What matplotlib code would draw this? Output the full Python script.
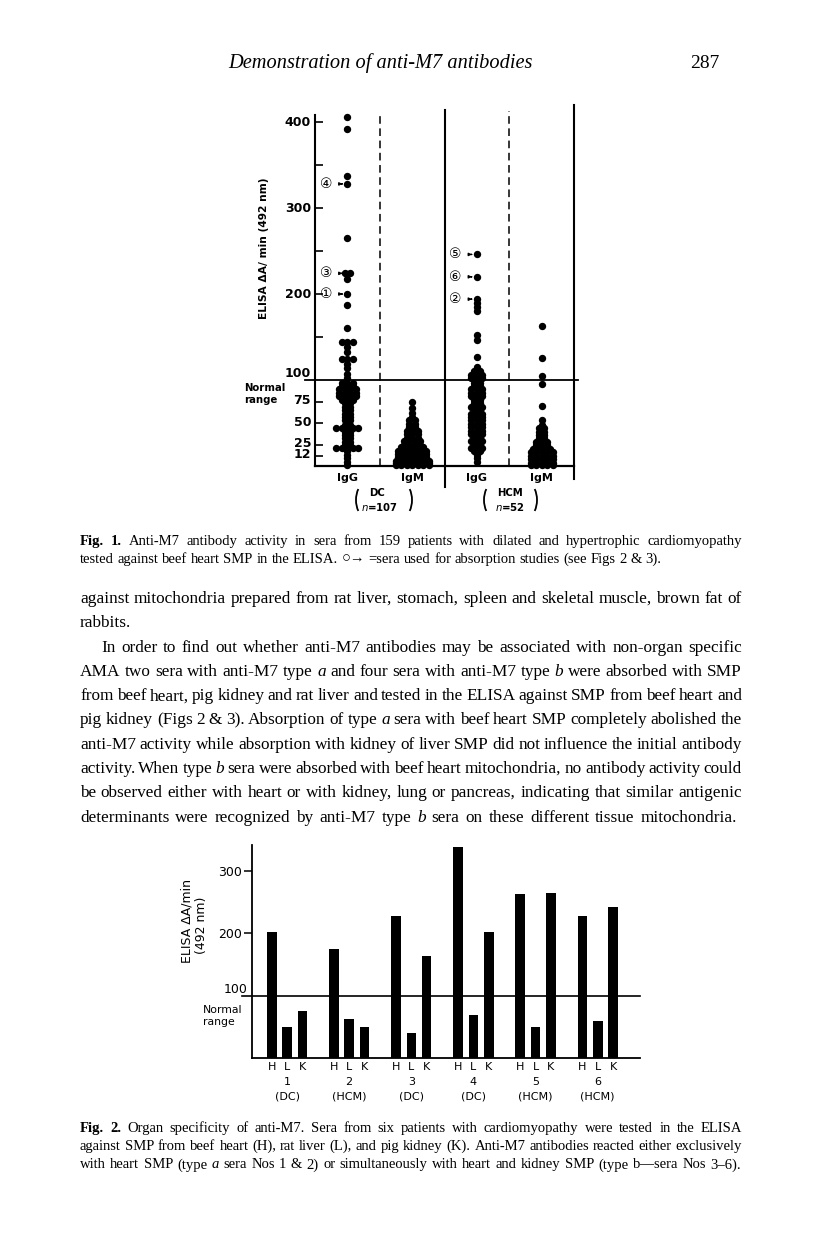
import matplotlib
matplotlib.use("Agg")
import matplotlib.pyplot as plt
from matplotlib.patches import Arc
import numpy as np

# ---------------- data ----------------
# Fig. 1: dot rows (value, number of dots side by side)
dc_igg_levels = [406, 392, 337, 328, 265, 224, 217, 200, 187, 161,
                 144, 138, 132, 125, 119, 114, 107, 102,
                 97, 93, 89, 85, 81, 77, 73, 69, 65, 61, 57, 53, 48, 44, 40, 36, 32, 28, 25, 21, 17, 13, 9, 5, 1]
dc_igg_counts = [1, 1, 1, 1, 1, 2, 1, 1, 1, 1,
                 3, 1, 1, 3, 1, 1, 1, 1,
                 3, 3, 4, 4, 4, 3, 2, 2, 2, 2, 2, 2, 2, 5, 2, 2, 2, 2, 2, 5, 1, 1, 1, 1, 1]

dc_igm_levels = [75, 68, 62, 57, 53, 49, 45, 41, 37, 33, 29, 25, 22, 18, 14, 10, 6, 3, 1]
dc_igm_counts = [1, 1, 1, 1, 2, 2, 2, 3, 3, 3, 4, 4, 5, 6, 6, 6, 7, 7, 7]

hcm_igg_levels = [246, 220, 194, 189, 185, 180, 152, 146, 127, 115, 110, 106, 102,
                  97, 93, 89, 85, 81, 77, 73, 69, 65, 61, 57, 53, 49, 45, 41, 37, 33, 29, 25, 21, 17, 13, 9, 5]
hcm_igg_counts = [1, 1, 1, 1, 1, 1, 1, 1, 1, 1, 2, 3, 3,
                  2, 2, 3, 3, 3, 2, 2, 3, 2, 3, 3, 3, 3, 3, 3, 3, 2, 3, 2, 3, 2, 1, 1, 1]

hcm_igm_levels = [163, 126, 105, 95, 70, 53, 48, 44, 40, 36, 32, 28, 24, 20, 16, 12, 8, 4, 1]
hcm_igm_counts = [1, 1, 1, 1, 1, 1, 1, 2, 2, 2, 2, 3, 3, 4, 5, 5, 5, 5, 5]

fig1_columns = ["IgG", "IgM", "IgG", "IgM"]
fig1_yticks_major = [400, 300, 200]
fig1_yticks_low = [75, 50, 25, 12]
fig1_yticks_minor = [350, 250, 150]
# absorbed sera: (column, value, label)
fig1_marked = [(1, 328, "④"), (1, 224, "③"), (1, 200, "①"),
               (3, 246, "⑤"), (3, 220, "⑥"), (3, 194, "②")]

# Fig. 2: bars
fig2_patients = ["1", "2", "3", "4", "5", "6"]
fig2_diag = ["(DC)", "(HCM)", "(DC)", "(DC)", "(HCM)", "(HCM)"]
fig2_organs = ["H", "L", "K"]
heart = [202, 174, 227, 338, 263, 227]
liver = [50, 63, 40, 69, 50, 60]
kidney = [76, 50, 163, 202, 264, 242]

# ---------------- page ----------------
W, H = 816, 1248
fig = plt.figure(figsize=(W / 100, H / 100), dpi=100)
fig.patch.set_facecolor("white")
page = fig.add_axes([0, 0, 1, 1])
page.set_xlim(0, W)
page.set_ylim(H, 0)
page.axis("off")
renderer = fig.canvas.get_renderer()

SANS = ["DejaVu Sans", "Noto Sans CJK JP"]
SERIF = ["Liberation Serif", "DejaVu Serif"]


def rect(x0, y0, x1, y1):
    return [x0 / W, 1 - y1 / H, (x1 - x0) / W, (y1 - y0) / H]


# ---------------- Fig. 1 ----------------
PX1 = 0.86  # px per unit
ax1 = fig.add_axes(rect(315, 466 - 420 * PX1, 574, 466))
ax1.patch.set_alpha(0)
ax1.set_xlim(0.5, 4.5)
ax1.set_ylim(0, 420)
for s in ["top", "right"]:
    ax1.spines[s].set_visible(False)
ax1.spines["left"].set_bounds(0, 408)
ax1.spines["left"].set_linewidth(1.5)
ax1.spines["bottom"].set_linewidth(1.6)
ax1.plot([4.5, 4.5], [-15, 420], color="black", lw=1.5, clip_on=False)
ax1.plot([2.5, 2.5], [-24, 414], color="black", lw=1.5, clip_on=False)
for xd, top in [(1.5, 408), (3.5, 413)]:
    ax1.plot([xd, xd], [0, top], color="black", lw=1.1, ls=(0, (5, 3)), clip_on=False)
ax1.plot([0.345, 4.56], [100, 100], color="black", lw=1.3, clip_on=False)

ax1.set_yticks(fig1_yticks_major + fig1_yticks_low + fig1_yticks_minor)
ax1.set_yticklabels([])
ax1.tick_params(axis="y", direction="in", length=6, width=1.2)
ax1.set_xticks([])
for v in fig1_yticks_major:
    ax1.text(0.44, v, str(v), ha="right", va="center", fontsize=9, fontweight="bold", family=SANS)
ax1.text(0.44, 108, "100", ha="right", va="center", fontsize=9, fontweight="bold", family=SANS)
for v in fig1_yticks_low:
    ax1.text(0.44, v + 1, str(v), ha="right", va="center", fontsize=9, fontweight="bold", family=SANS)

SP = 0.085
for center, lev, cnt in [(1, dc_igg_levels, dc_igg_counts), (2, dc_igm_levels, dc_igm_counts),
                         (3, hcm_igg_levels, hcm_igg_counts), (4, hcm_igm_levels, hcm_igm_counts)]:
    xs, ys = [], []
    for v, n in zip(lev, cnt):
        xs.extend(center + (np.arange(n) - (n - 1) / 2) * SP)
        ys.extend([v] * n)
    ax1.plot(xs, ys, "o", ms=5.3, color="black", mew=0, clip_on=False)

for col, v, lab in fig1_marked:
    ax1.annotate(lab, xy=(col, v), xytext=(-15.5, 0), textcoords="offset points",
                 ha="center", va="center", fontsize=10, family=SANS,
                 arrowprops=dict(arrowstyle="-|>", lw=1.0, color="black", shrinkA=5, shrinkB=3.5,
                                 mutation_scale=4))

for i, lab in enumerate(fig1_columns):
    ax1.text(i + 1, -14, lab, ha="center", va="center", fontsize=8, fontweight="bold", family=SANS)

page.text(264, 248, "ELISA ΔA/ min (492 nm)", rotation=90, ha="center", va="center",
          fontsize=7.7, fontweight="bold", family=SANS)
page.text(244, 394, "Normal\nrange", ha="left", va="center", fontsize=7.3,
          fontweight="bold", family=SANS, linespacing=1.35)

# group brackets
for cx, name, n_txt, xl, xr in [(377, "DC", r"$n$=107", 366, 402), (510, "HCM", r"$n$=52", 494, 527)]:
    page.text(cx, 493, name, ha="center", va="center", fontsize=7.3, fontweight="bold", family=SANS)
    page.text(cx + 3 if name == "DC" else cx, 507, n_txt, ha="center", va="center", fontsize=7.3,
              fontweight="bold", family=SANS)
    page.add_patch(Arc((xl, 500), 20, 34, theta1=125, theta2=235, lw=1.3, color="black"))
    page.add_patch(Arc((xr, 500), 20, 34, theta1=-55, theta2=55, lw=1.3, color="black"))

# ---------------- Fig. 2 ----------------
PX2 = 0.625
ax2 = fig.add_axes(rect(252, 1058 - 341 * PX2, 640, 1058))
ax2.patch.set_alpha(0)
ax2.set_xlim(0.436, 6.68)
ax2.set_ylim(0, 341)
for s in ["top", "right"]:
    ax2.spines[s].set_visible(False)
ax2.spines["left"].set_linewidth(1.3)
ax2.spines["bottom"].set_linewidth(1.3)

grp = np.arange(1, len(fig2_patients) + 1)
OFF = 0.247
BW = 0.155
for k, vals in enumerate([heart, liver, kidney]):
    ax2.bar(grp + (k - 1) * OFF, vals, width=BW, color="black")
ax2.plot([0.275, 6.68], [100, 100], color="black", lw=1.2, clip_on=False)

ax2.set_yticks([200, 300])
ax2.set_yticklabels(["200", "300"], family=SANS, fontsize=9)
ax2.tick_params(axis="y", direction="out", length=5.5, width=1.1, pad=1.5)
ax2.text(0.37, 100 + 6 / PX2, "100", ha="right", va="center", fontsize=9, family=SANS)

ticks_x = np.concatenate([grp + (k - 1) * OFF for k in range(3)])
tick_l = [fig2_organs[k] for k in range(3) for _ in grp]
ax2.set_xticks(ticks_x)
ax2.set_xticklabels(tick_l, family=SANS, fontsize=8)
ax2.tick_params(axis="x", length=0, pad=3)
for g, p, d in zip(grp, fig2_patients, fig2_diag):
    ax2.text(g, -38.5, p, ha="center", va="center", fontsize=8, family=SANS, clip_on=False)
    ax2.text(g, -61, d, ha="center", va="center", fontsize=8, family=SANS, clip_on=False)

page.text(187, 921, "ELISA ΔA/min", rotation=90, ha="center", va="center", fontsize=9, family=SANS)
page.text(201, 925, "(492 nm)", rotation=90, ha="center", va="center", fontsize=9, family=SANS)
page.text(203, 1016, "Normal\nrange", ha="left", va="center", fontsize=7.8, family=SANS, linespacing=1.3)


# ---------------- text ----------------
def parse(spec):
    out = []
    for tok in spec.split(" "):
        wt, st = "normal", "normal"
        if tok.startswith("*"):
            wt, tok = "bold", tok[1:]
        elif tok.startswith("_"):
            st, tok = "italic", tok[1:]
        out.append((tok, wt, st))
    return out


def width_of(s, size, weight="normal", style="normal"):
    t = page.text(0, 0, s, fontsize=size, family=SERIF, fontweight=weight, fontstyle=style)
    w = t.get_window_extent(renderer).width
    t.remove()
    return w


def natural_width(spec, size):
    toks = parse(spec)
    sp = width_of("a a", size) - width_of("aa", size)
    return sum(width_of(t, size, w, s) for t, w, s in toks) + sp * (len(toks) - 1)


def line(spec, x0, y, size, x1=None):
    objs = []
    for tok, wt, st in parse(spec):
        objs.append(page.text(0, y, tok, fontsize=size, family=SERIF, fontweight=wt,
                              fontstyle=st, ha="left", va="baseline"))
    ws = [o.get_window_extent(renderer).width for o in objs]
    sp = width_of("a a", size) - width_of("aa", size)
    if x1 is not None and len(objs) > 1:
        gap = (x1 - x0 - sum(ws)) / (len(objs) - 1)
    else:
        gap = sp
    x = x0
    for o, w in zip(objs, ws):
        o.set_x(x)
        x += w + gap


# header
hdr = page.text(380, 68, "Demonstration of anti-M7 antibodies", ha="center", va="baseline",
                fontsize=14, family=SERIF, fontstyle="italic")
hw = hdr.get_window_extent(renderer).width
hdr.set_fontsize(14 * 305 / hw)
page.text(705, 68, "287", ha="center", va="baseline", fontsize=14, family=SERIF)

LM, RM = 80, 742

cap1 = [
    "*Fig. *1. Anti-M7 antibody activity in sera from 159 patients with dilated and hypertrophic cardiomyopathy",
    "tested against beef heart SMP in the ELISA. ○→ =sera used for absorption studies (see Figs 2 & 3).",
]
cap2 = [
    "*Fig. *2. Organ specificity of anti-M7. Sera from six patients with cardiomyopathy were tested in the ELISA",
    "against SMP from beef heart (H), rat liver (L), and pig kidney (K). Anti-M7 antibodies reacted either exclusively",
    "with heart SMP (type _a sera Nos 1 & 2) or simultaneously with heart and kidney SMP (type b—sera Nos 3–6).",
]
body = [
    ("against mitochondria prepared from rat liver, stomach, spleen and skeletal muscle, brown fat of", LM, RM),
    ("rabbits.", LM, None),
    ("In order to find out whether anti-M7 antibodies may be associated with non-organ specific", 101, RM),
    ("AMA two sera with anti-M7 type _a and four sera with anti-M7 type _b were absorbed with SMP", LM, RM),
    ("from beef heart, pig kidney and rat liver and tested in the ELISA against SMP from beef heart and", LM, RM),
    ("pig kidney (Figs 2 & 3). Absorption of type _a sera with beef heart SMP completely abolished the", LM, RM),
    ("anti-M7 activity while absorption with kidney of liver SMP did not influence the initial antibody", LM, RM),
    ("activity. When type _b sera were absorbed with beef heart mitochondria, no antibody activity could", LM, RM),
    ("be observed either with heart or with kidney, lung or pancreas, indicating that similar antigenic", LM, RM),
    ("determinants were recognized by anti-M7 type _b sera on these different tissue mitochondria.", LM, 737),
]

# font sizes calibrated so the tightest lines fill the measure
CAP = 10 * 660 / natural_width(cap2[1], 10)
BODY = 10 * 656 / natural_width(body[0][0], 10)

line(cap1[0], LM, 545, CAP, RM)
line(cap1[1], LM, 563, CAP)

y0 = 603
for i, (s, xa, xb) in enumerate(body):
    line(s, xa, y0 + i * 24.3, BODY, xb)

for i, s in enumerate(cap2):
    line(s, LM, 1132 + i * 18.2, CAP, RM if i < 2 else 741)

fig.savefig("out.png", dpi=100, facecolor="white")
